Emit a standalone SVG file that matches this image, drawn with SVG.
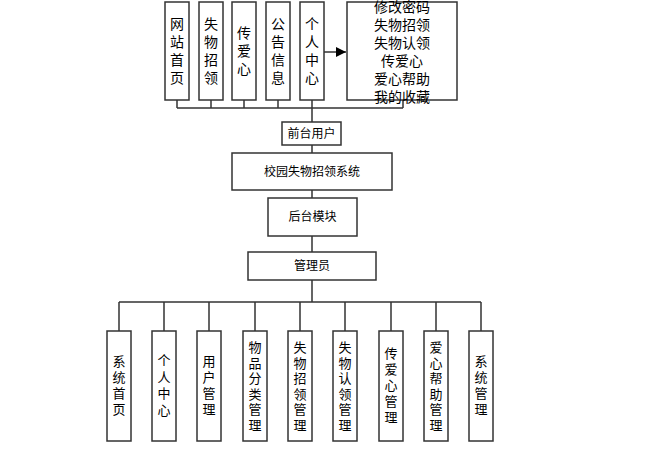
<svg xmlns="http://www.w3.org/2000/svg" width="666" height="458" viewBox="0 0 666 458">
<defs>
<style>
.box{fill:#ffffff;stroke:#333333;stroke-width:1.5}
.ln{fill:none;stroke:#333333;stroke-width:1.5}
text{font-family:"Liberation Sans","Noto Sans CJK SC",sans-serif;fill:#000;text-anchor:middle;dominant-baseline:central}
.t14{font-size:14px}
.t13{font-size:13px}
.t12{font-size:12px}
</style>
<marker id="arr" viewBox="0 0 10 10" refX="10" refY="5" markerWidth="10" markerHeight="10" markerUnits="userSpaceOnUse" orient="auto">
<path d="M0,0 L10,5 L0,10 Z" fill="#000"/>
</marker>
</defs>
<rect width="666" height="458" fill="#ffffff"/>
<g id="connectors">
<path class="ln" d="M177,100 V108 M211,100 V108 M244,100 V108 M278,100 V108 M403,100 V108 M177,108 H403 M312,100 V122"/>
<path class="ln" d="M324,52 H346" marker-end="url(#arr)"/>
<path class="ln" d="M312,145 V153 M312,190 V198 M312,236 V252 M312,280 V302"/>
<path class="ln" d="M119,302 H481 M119,302 V331 M164,302 V331 M209,302 V331 M255,302 V331 M300,302 V331 M345,302 V331 M391,302 V331 M436,302 V331 M481,302 V331"/>
</g>
<g id="n_wzsy"><rect class="box" x="165" y="2" width="24" height="98"/><text class="t14"><tspan x="177" y="24">网</tspan><tspan x="177" y="42">站</tspan><tspan x="177" y="60">首</tspan><tspan x="177" y="78">页</tspan></text></g>
<g id="n_swzl"><rect class="box" x="199" y="2" width="24" height="98"/><text class="t14"><tspan x="211" y="24">失</tspan><tspan x="211" y="42">物</tspan><tspan x="211" y="60">招</tspan><tspan x="211" y="78">领</tspan></text></g>
<g id="n_cax"><rect class="box" x="232" y="2" width="24" height="98"/><text class="t14"><tspan x="244" y="33">传</tspan><tspan x="244" y="51">爱</tspan><tspan x="244" y="69">心</tspan></text></g>
<g id="n_ggxx"><rect class="box" x="266" y="2" width="24" height="98"/><text class="t14"><tspan x="278" y="24">公</tspan><tspan x="278" y="42">告</tspan><tspan x="278" y="60">信</tspan><tspan x="278" y="78">息</tspan></text></g>
<g id="n_grzx"><rect class="box" x="300" y="2" width="24" height="98"/><text class="t14"><tspan x="312" y="24">个</tspan><tspan x="312" y="42">人</tspan><tspan x="312" y="60">中</tspan><tspan x="312" y="78">心</tspan></text></g>
<g id="n_menu"><rect class="box" x="347" y="2" width="110" height="98"/><text class="t14"><tspan x="402" y="7">修改密码</tspan><tspan x="402" y="25">失物招领</tspan><tspan x="402" y="43">失物认领</tspan><tspan x="402" y="61">传爱心</tspan><tspan x="402" y="79">爱心帮助</tspan><tspan x="402" y="97">我的收藏</tspan></text></g>
<g id="n_qtyh"><rect class="box" x="282" y="122" width="59" height="23"/><text class="t12" x="311.5" y="133.5">前台用户</text></g>
<g id="n_xy"><rect class="box" x="232" y="153" width="160" height="37"/><text class="t12" x="312" y="171.5">校园失物招领系统</text></g>
<g id="n_htmk"><rect class="box" x="268" y="198" width="89" height="38"/><text class="t12" x="312.5" y="217">后台模块</text></g>
<g id="n_gly"><rect class="box" x="248" y="252" width="128" height="28"/><text class="t12" x="312" y="266">管理员</text></g>
<g id="n_b1"><rect class="box" x="107" y="331" width="24" height="110"/><text class="t13"><tspan x="119" y="361">系</tspan><tspan x="119" y="377">统</tspan><tspan x="119" y="393">首</tspan><tspan x="119" y="409">页</tspan></text></g>
<g id="n_b2"><rect class="box" x="152" y="331" width="24" height="110"/><text class="t13"><tspan x="164" y="360">个</tspan><tspan x="164" y="376.5">人</tspan><tspan x="164" y="393">中</tspan><tspan x="164" y="409.5">心</tspan></text></g>
<g id="n_b3"><rect class="box" x="197" y="331" width="24" height="110"/><text class="t13"><tspan x="209" y="361">用</tspan><tspan x="209" y="377">户</tspan><tspan x="209" y="393">管</tspan><tspan x="209" y="409">理</tspan></text></g>
<g id="n_b4"><rect class="box" x="243" y="331" width="24" height="110"/><text class="t13"><tspan x="255" y="347">物</tspan><tspan x="255" y="362.6">品</tspan><tspan x="255" y="378.2">分</tspan><tspan x="255" y="393.8">类</tspan><tspan x="255" y="409.4">管</tspan><tspan x="255" y="425">理</tspan></text></g>
<g id="n_b5"><rect class="box" x="288" y="331" width="24" height="110"/><text class="t13"><tspan x="300" y="347">失</tspan><tspan x="300" y="362.6">物</tspan><tspan x="300" y="378.2">招</tspan><tspan x="300" y="393.8">领</tspan><tspan x="300" y="409.4">管</tspan><tspan x="300" y="425">理</tspan></text></g>
<g id="n_b6"><rect class="box" x="333" y="331" width="24" height="110"/><text class="t13"><tspan x="345" y="347">失</tspan><tspan x="345" y="362.6">物</tspan><tspan x="345" y="378.2">认</tspan><tspan x="345" y="393.8">领</tspan><tspan x="345" y="409.4">管</tspan><tspan x="345" y="425">理</tspan></text></g>
<g id="n_b7"><rect class="box" x="379" y="331" width="24" height="110"/><text class="t13"><tspan x="391" y="353">传</tspan><tspan x="391" y="369">爱</tspan><tspan x="391" y="385">心</tspan><tspan x="391" y="401">管</tspan><tspan x="391" y="417">理</tspan></text></g>
<g id="n_b8"><rect class="box" x="424" y="331" width="24" height="110"/><text class="t13"><tspan x="436" y="347">爱</tspan><tspan x="436" y="362.6">心</tspan><tspan x="436" y="378.2">帮</tspan><tspan x="436" y="393.8">助</tspan><tspan x="436" y="409.4">管</tspan><tspan x="436" y="425">理</tspan></text></g>
<g id="n_b9"><rect class="box" x="469" y="331" width="24" height="110"/><text class="t13"><tspan x="481" y="361">系</tspan><tspan x="481" y="377">统</tspan><tspan x="481" y="393">管</tspan><tspan x="481" y="409">理</tspan></text></g>
</svg>
